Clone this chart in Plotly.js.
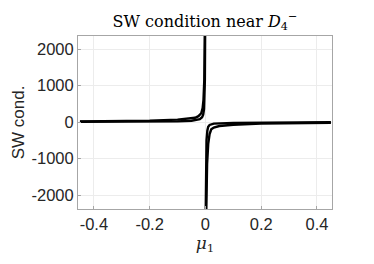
<!DOCTYPE html>
<html><head><meta charset="utf-8">
<script src="https://cdn.plot.ly/plotly-3.0.1.min.js"></script>
<style>html,body{margin:0;padding:0;background:#fff}#chart{width:374px;height:264px}</style>
</head><body><div id="chart"></div>
<script>
// Values (estimated)
const xOuterLeft = [-0.45,-0.3,-0.2,-0.1,-0.07,-0.05,-0.037,-0.025,-0.015,-0.01,-0.007,-0.004,-0.002];
const yOuterLeft = [18,26,38,65,80,95,115,160,240,380,600,1150,2500];
const xInnerLeft = [-0.45,-0.2,-0.1,-0.05,-0.03,-0.02,-0.012,-0.008,-0.005,-0.0035,-0.002,-0.001];
const yInnerLeft = [5,10,18,35,55,80,130,200,350,600,1150,2500];
const xOuterRight = [0.003,0.006,0.010,0.015,0.021,0.03,0.05,0.1,0.2,0.3,0.45];
const yOuterRight = [-2500,-1150,-600,-330,-200,-150,-110,-75,-45,-32,-22];
const xInnerRight = [0.001,0.002,0.004,0.007,0.010,0.015,0.03,0.1,0.2,0.45];
const yInnerRight = [-2500,-1150,-500,-230,-130,-80,-45,-25,-15,-8];
const xTicks = [-0.4,-0.2,0,0.2,0.4];
const xTickText = ['-0.4','-0.2','0','0.2','0.4'];
const yTicks = [-2000,-1000,0,1000,2000];
const yTickText = ['-2000','-1000','0','1000','2000'];

const line = {color:'#000', width:2.4};
const traces = [
  {x: xOuterLeft.concat([null], xOuterRight), y: yOuterLeft.concat([null], yOuterRight), mode:'lines', line, connectgaps:false},
  {x: xInnerLeft.concat([null], xInnerRight), y: yInnerLeft.concat([null], yInnerRight), mode:'lines', line, connectgaps:false}
];
const axisCommon = {
  showline:true, mirror:true, linecolor:'#a6a6a6', linewidth:1,
  showgrid:true, gridcolor:'#ececec', gridwidth:1,
  zeroline:false, ticks:'inside', ticklen:3, tickcolor:'#a6a6a6',
  tickfont:{family:'Liberation Sans, Arial, sans-serif', size:16.5, color:'#262626'}
};
const layout = {
  width:374, height:264,
  margin:{l:78, r:42, t:36, b:55},
  paper_bgcolor:'#fff', plot_bgcolor:'#fff',
  showlegend:false,
  title:{text:'SW condition near <i>D</i><sub>4</sub><sup>−</sup>', x:0.548, xanchor:'center', y:0.94, yanchor:'top',
    font:{family:'DejaVu Serif, Liberation Serif, serif', size:16, color:'#000'}},
  xaxis: Object.assign({}, axisCommon, {range:[-0.457,0.454], tickvals:xTicks, ticktext:xTickText,
    title:{text:'<i>μ</i><sub>1</sub>', standoff:4, font:{family:'DejaVu Serif, serif', size:17, color:'#262626'}}}),
  yaxis: Object.assign({}, axisCommon, {range:[-2383,2356], tickvals:yTicks, ticktext:yTickText,
    title:{text:'SW cond.', standoff:2, font:{family:'Liberation Sans, Arial, sans-serif', size:17, color:'#262626'}}})
};
Plotly.newPlot('chart', traces, layout, {staticPlot:true, displayModeBar:false});
</script></body></html>
